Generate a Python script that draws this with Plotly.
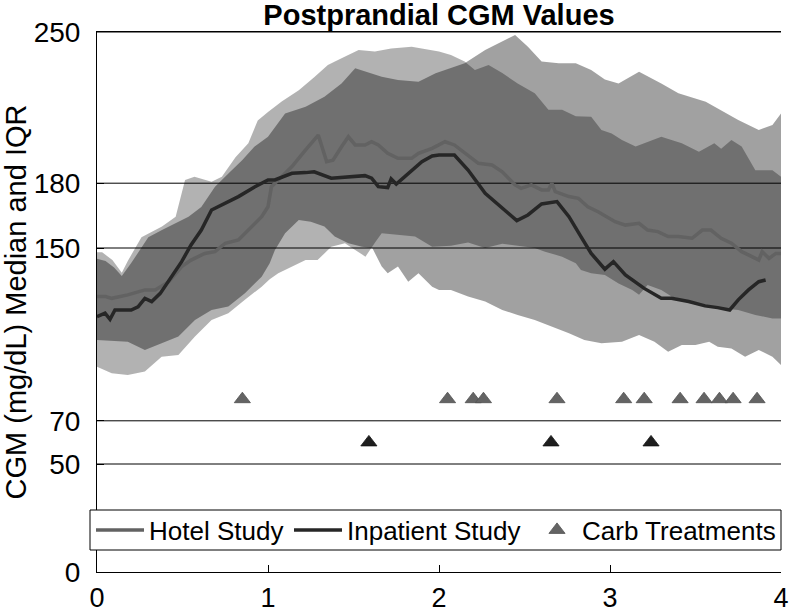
import plotly.graph_objects as go

# ---------------- data ----------------
# IQR of Inpatient study
inp_q3_x = [0.0, 0.03, 0.09, 0.145, 0.18, 0.26, 0.38, 0.46, 0.515, 0.57, 0.67, 0.73, 0.81, 0.885, 0.94,
            1.0, 1.08, 1.18, 1.27, 1.35, 1.43, 1.53, 1.625, 1.72, 1.84, 1.94, 2.0, 2.07, 2.15, 2.21, 2.29,
            2.37, 2.46, 2.56, 2.64, 2.72, 2.80, 2.89, 2.95, 3.01, 3.07, 3.15, 3.30, 3.42, 3.52, 3.61, 3.65,
            3.71, 3.77, 3.85, 3.95, 4.0]
inp_q3_y = [148, 148, 144.5, 138.5, 144, 155, 160, 164.5, 181.5, 183, 180.7, 183, 192, 198.5, 209,
            213, 217.8, 223, 229, 234.7, 237.8, 241.7, 241, 242.4, 243.2, 241.7, 241, 239.4, 236.3, 232.4, 234.7,
            231, 226.2, 221.6, 214, 214, 211, 210.8, 204.6, 203, 200, 197, 201.5, 198.5, 194.6, 198.5, 196,
            200, 197, 186, 186, 183]
inp_q1_x = [0.0, 0.086, 0.18, 0.28, 0.378, 0.476, 0.573, 0.67, 0.768, 0.865, 0.963, 1.01, 1.06, 1.14, 1.22,
            1.29, 1.37, 1.45, 1.51, 1.57, 1.63, 1.665, 1.76, 1.86, 1.96, 2.0, 2.07, 2.17, 2.27, 2.37, 2.46,
            2.56, 2.62, 2.72, 2.80, 2.83, 2.89, 2.97, 3.05, 3.13, 3.17, 3.22, 3.30, 3.36, 3.46, 3.56, 3.65,
            3.75, 3.85, 3.95, 4.0]
inp_q1_y = [95, 92, 91.2, 92.8, 99.7, 100.5, 109, 116.7, 119.8, 126, 132.1, 135.5, 138.3, 141.4, 144.4,
            144.4, 150.6, 152.2, 149.1, 146, 153, 156.8, 156, 155.3, 150.6, 150.6, 151, 152.5, 150, 152, 151,
            150, 148.3, 146, 142.9, 139.8, 138.3, 137.5, 133.6, 130.6, 128.3, 132.9, 130.6, 127.5, 125.2, 122.8, 122.1,
            121.3, 119, 117.4, 117.4]

# IQR of Hotel study
hot_q3_x = [0.0, 0.05, 0.1, 0.145, 0.2, 0.3, 0.38, 0.46, 0.535, 0.61, 0.69, 0.77, 0.85, 0.92, 1.0,
            1.10, 1.22, 1.33, 1.43, 1.51, 1.57, 1.665, 1.76, 1.88, 1.98, 2.07, 2.15, 2.27, 2.37, 2.445, 2.52,
            2.60, 2.70, 2.80, 2.89, 2.97, 3.05, 3.17, 3.30, 3.40, 3.56, 3.63, 3.75, 3.87, 3.95, 4.0]
hot_q3_y = [145, 144, 141, 137, 143, 155, 158.3, 161.4, 164.5, 169, 178.4, 184.6, 190.7, 196.9, 201.5,
            212.3, 215.4, 220, 226.2, 233.2, 231.6, 229.3, 227.8, 227, 230.9, 233.2, 235.5, 241.7, 245.5, 248.6, 243.2,
            236.3, 235.5, 235.5, 232.4, 228, 226.2, 231.6, 226.2, 221.6, 217.7, 214.7, 209.3, 204.6, 207, 212.3]
hot_q1_x = [0.0, 0.18, 0.28, 0.378, 0.476, 0.573, 0.67, 0.768, 0.865, 0.963, 1.01, 1.04, 1.10, 1.18, 1.25,
            1.33, 1.39, 1.47, 1.55, 1.61, 1.665, 1.70, 1.76, 1.82, 1.88, 1.96, 2.0, 2.07, 2.17, 2.27, 2.37,
            2.46, 2.56, 2.66, 2.76, 2.85, 2.95, 3.07, 3.17, 3.26, 3.34, 3.42, 3.50, 3.58, 3.63, 3.71, 3.79,
            3.87, 3.95, 4.0]
hot_q1_y = [107.4, 106.6, 102.8, 105.9, 109, 116.7, 121.3, 122.9, 129, 136.7, 142.9, 149, 156.8, 163, 162.2,
            159.9, 155.3, 152.2, 150.6, 150, 141.4, 138.3, 141.4, 134.4, 138.3, 132.1, 130.6, 130.6, 127.5, 125.2, 121.3,
            119, 116.7, 113.6, 110.5, 107.4, 105.9, 106.6, 109.7, 106.6, 102, 105.1, 105.1, 106.6, 104.3, 103.5, 99.7,
            102.8, 99.7, 95.8]

# Medians
hot_med_x = [0.0, 0.05, 0.086, 0.18, 0.28, 0.34, 0.42, 0.495, 0.55, 0.63, 0.69, 0.75, 0.827, 0.904, 0.963,
             1.0, 1.02, 1.08, 1.14, 1.22, 1.294, 1.343, 1.38, 1.43, 1.47, 1.51, 1.567, 1.606, 1.645, 1.70, 1.76,
             1.84, 1.88, 1.96, 2.0, 2.035, 2.09, 2.17, 2.23, 2.31, 2.37, 2.445, 2.48, 2.54, 2.60, 2.64, 2.66,
             2.68, 2.76, 2.815, 2.87, 2.93, 3.0, 3.03, 3.09, 3.17, 3.22, 3.28, 3.34, 3.40, 3.48, 3.54, 3.59,
             3.65, 3.71, 3.77, 3.83, 3.87, 3.89, 3.93, 3.97, 4.0]
hot_med_y = [127.5, 127.5, 126.7, 128.3, 130.6, 130.6, 134.4, 141.4, 144.4, 147.5, 148.3, 152.2, 153.7, 159.9, 164.5,
             169.1, 178.4, 183, 187.7, 195.4, 202.3, 190, 190.7, 196.9, 201.5, 197.7, 197.7, 199.2, 197.7, 193.8, 191.5,
             191.5, 193.8, 196.1, 197.7, 199.2, 197.7, 193, 189.2, 188.4, 185.3, 179.2, 177.6, 179.2, 176.9, 176.9, 180,
             176.1, 173.8, 173, 169.1, 166.8, 163.7, 162.2, 160.6, 161.4, 158.3, 157.6, 155.3, 155.3, 154.5, 158.3, 158.3,
             154.5, 152.2, 148.3, 146, 144.4, 148.3, 145.2, 147.5, 147.5]
inp_med_x = [0.0, 0.047, 0.076, 0.105, 0.2, 0.24, 0.28, 0.32, 0.37, 0.436, 0.495, 0.55, 0.61, 0.67, 0.75,
             0.827, 0.924, 1.0, 1.04, 1.14, 1.22, 1.27, 1.37, 1.47, 1.567, 1.606, 1.645, 1.70, 1.72, 1.75, 1.82,
             1.90, 1.96, 2.0, 2.09, 2.17, 2.27, 2.37, 2.455, 2.52, 2.60, 2.69, 2.76, 2.83, 2.89, 2.97, 3.02,
             3.09, 3.20, 3.30, 3.36, 3.46, 3.556, 3.63, 3.70, 3.75, 3.81, 3.87, 3.91]
inp_med_y = [118.2, 119.8, 117, 121.3, 121.3, 122.8, 126.7, 125.2, 129, 136.7, 143.7, 151.4, 158.3, 167.6, 170.7,
             173.8, 178.4, 181.5, 181.5, 184.6, 184.9, 185.3, 182.3, 183, 183.5, 182.3, 178.4, 178, 182, 179.6, 184.6,
             190, 192.6, 193, 193, 186.1, 175.3, 168.4, 162.7, 165.3, 170.4, 171.5, 164.5, 155.3, 147.5, 140.2, 143.7,
             137.5, 131.3, 126.7, 126.7, 125.2, 123.2, 122.4, 121.3, 126, 130.6, 134.4, 135.2]

# Carb treatments (hours) and the level they are drawn at
hot_carb_x = [0.85, 2.05, 2.20, 2.26, 2.69, 3.08, 3.20, 3.41, 3.55, 3.64, 3.72, 3.86]
hot_carb_level = 80
inp_carb_x = [1.59, 2.655, 3.24]
inp_carb_level = 60

grid_values = [50, 70, 150, 180, 250]
x_ticks = [0, 1, 2, 3, 4]
y_ticks = [0, 50, 70, 150, 180, 250]

FONT = "Liberation Sans, Arial, Helvetica, sans-serif"

# plot area in pixels
L, R, T, B = 97, 781, 32, 572
W, H = 792, 614
PW, PH = R - L, B - T


def px_x(p):
    return (p - L) / PW


def px_y(p):
    return (B - p) / PH


fig = go.Figure()


def band(xt, yt, xb, yb, color):
    return go.Scatter(x=list(xt) + list(xb)[::-1], y=list(yt) + list(yb)[::-1],
                      fill="toself", fillcolor=color, line=dict(width=0),
                      mode="lines", showlegend=False, hoverinfo="skip")


fig.add_trace(band(inp_q3_x, inp_q3_y, inp_q1_x, inp_q1_y, "rgba(0,0,0,0.30)"))
fig.add_trace(band(hot_q3_x, hot_q3_y, hot_q1_x, hot_q1_y, "rgba(0,0,0,0.37)"))

for g in grid_values:
    fig.add_trace(go.Scatter(x=[x_ticks[0], x_ticks[-1]], y=[g, g], mode="lines",
                             line=dict(color="black", width=1), showlegend=False, hoverinfo="skip"))

fig.add_trace(go.Scatter(x=hot_med_x, y=hot_med_y, mode="lines", name="Hotel Study",
                         line=dict(color="#626262", width=3.5), legend="legend"))
fig.add_trace(go.Scatter(x=inp_med_x, y=inp_med_y, mode="lines", name="Inpatient Study",
                         line=dict(color="#262626", width=3.5), legend="legend2"))
fig.add_trace(go.Scatter(x=hot_carb_x, y=[hot_carb_level] * len(hot_carb_x), mode="markers",
                         name="Carb Treatments", legend="legend3",
                         marker=dict(symbol="triangle-up", size=14, color="#646464",
                                     line=dict(color="#505050", width=0.8))))
fig.add_trace(go.Scatter(x=inp_carb_x, y=[inp_carb_level] * len(inp_carb_x), mode="markers",
                         showlegend=False,
                         marker=dict(symbol="triangle-up", size=14, color="#1e1e1e",
                                     line=dict(color="#111111", width=0.8))))

# legend frame
fig.add_shape(type="rect", xref="paper", yref="paper", x0=px_x(90), x1=px_x(781),
              y0=px_y(550), y1=px_y(510),
              line=dict(color="black", width=1), fillcolor="white", layer="above")

leg_common = dict(orientation="h", xanchor="left", y=px_y(530), yanchor="middle",
                  bgcolor="rgba(0,0,0,0)", borderwidth=0, font=dict(size=26, family=FONT, color="black"))

fig.update_layout(
    width=W, height=H,
    margin=dict(l=L, r=W - R, t=T, b=H - B, autoexpand=False),
    paper_bgcolor="white", plot_bgcolor="white",
    font=dict(family=FONT, color="black"),
    title=dict(text="Postprandial CGM Values", x=(L + R) / 2 / W, xanchor="center",
               y=1 - 15 / H, yanchor="middle",
               font=dict(size=29, weight="bold", family=FONT, color="black")),
    showlegend=True,
    legend=dict(x=px_x(91), itemwidth=48, **leg_common),
    legend2=dict(x=px_x(289), itemwidth=48, **leg_common),
    legend3=dict(x=px_x(532), itemwidth=40, **leg_common),
    xaxis=dict(range=[0, 4], tickvals=x_ticks, ticktext=[str(v) for v in x_ticks],
               showgrid=False, zeroline=False, showline=True, linecolor="black", linewidth=1,
               mirror=True, ticks="inside", ticklen=7, tickcolor="black", automargin=False,
               tickfont=dict(size=27, family=FONT), ticklabelstandoff=2),
    yaxis=dict(range=[0, 250], tickvals=y_ticks, ticktext=[str(v) for v in y_ticks],
               showgrid=False, zeroline=False, showline=True, linecolor="black", linewidth=1,
               ticks="inside", ticklen=7, tickcolor="black", automargin=False,
               tickfont=dict(size=28, family=FONT), ticklabelstandoff=10,
               title=dict(text="CGM (mg/dL) Median and IQR", font=dict(size=29, family=FONT),
                          standoff=8)),
)

fig.write_html("out.html", config={"displayModeBar": False},
               post_script="document.body.style.margin='0px';")
